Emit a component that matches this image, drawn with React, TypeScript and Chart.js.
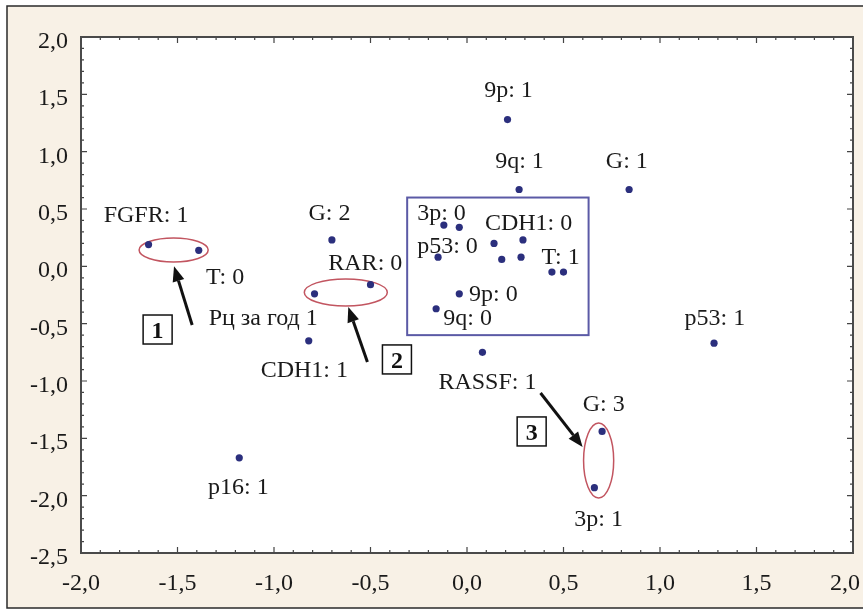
import React, { useEffect, useRef } from "react";
import { Chart, registerables } from "chart.js";

Chart.register(...registerables);

// ---- data ----
const pointX = [0.21, 0.27, 0.84, -1.65, -1.39, -0.7, -0.5, -0.79, -0.82, -0.12, -0.04, 0.14, 0.29, -0.15, 0.18, 0.28, 0.44, 0.5, -0.04, -0.16, 0.08, 1.28, -1.18, 0.7, 0.66];
const pointY = [1.28, 0.67, 0.67, 0.19, 0.14, 0.23, -0.16, -0.24, -0.65, 0.36, 0.34, 0.2, 0.23, 0.08, 0.06, 0.08, -0.05, -0.05, -0.24, -0.37, -0.75, -0.67, -1.67, -1.44, -1.93];

const xTicks = [-2, -1.5, -1, -0.5, 0, 0.5, 1, 1.5, 2];
const yTicks = [-2.5, -2, -1.5, -1, -0.5, 0, 0.5, 1, 1.5, 2];

const labelTexts = ["9p: 1", "9q: 1", "G: 1", "FGFR: 1", "G: 2", "T: 0", "Рц за год 1", "RAR: 0", "CDH1: 1", "3p: 0", "CDH1: 0", "p53: 0", "T: 1", "9p: 0", "9q: 0", "RASSF: 1", "G: 3", "3p: 1", "p16: 1", "p53: 1"];
const labelX = [0.215, 0.272, 0.828, -1.663, -0.713, -1.253, -1.056, -0.527, -0.843, -0.132, 0.319, -0.101, 0.485, 0.137, 0.003, 0.106, 0.708, 0.682, -1.185, 1.284];
const labelY = [1.538, 0.927, 0.927, 0.456, 0.473, -0.085, -0.45, 0.037, -0.904, 0.473, 0.386, 0.186, 0.09, -0.233, -0.45, -1.0, -1.192, -2.203, -1.924, -0.45];

// ellipses: centre x, centre y, radius x, radius y (data units)
const ellipseCX = [-1.52, -0.628, 0.682];
const ellipseCY = [0.142, -0.228, -1.693];
const ellipseRX = [0.179, 0.215, 0.078];
const ellipseRY = [0.105, 0.118, 0.327];

// arrows: from -> to (data units)
const arrowFromX = [-1.424, -0.516, 0.381];
const arrowFromY = [-0.512, -0.834, -1.105];
const arrowToX = [-1.518, -0.615, 0.599];
const arrowToY = [0.0, -0.355, -1.575];

// numbered boxes
const boxTexts = ["1", "2", "3"];
const boxX = [-1.603, -0.363, 0.335];
const boxY = [-0.551, -0.812, -1.44];

// highlighted region rectangle
const regionX = [-0.31, 0.63];
const regionY = [0.6, -0.6];

const FONT = '"Liberation Serif", "Times New Roman", serif';
const fmt = (v: number) => v.toFixed(1).replace(".", ",");

const overlay = {
  id: "overlay",
  beforeDraw(chart: any) {
    const ctx = chart.ctx;
    const W = chart.width;
    const H = chart.height;
    const a = chart.chartArea;
    ctx.save();
    ctx.fillStyle = "#ffffff";
    ctx.fillRect(0, 0, W, H);
    ctx.fillStyle = "#f8f1e6";
    ctx.fillRect(7, 6, W - 7, 602);
    ctx.strokeStyle = "#2a2a2a";
    ctx.lineWidth = 1.5;
    ctx.beginPath();
    ctx.moveTo(W, 6);
    ctx.lineTo(7, 6);
    ctx.lineTo(7, 608);
    ctx.lineTo(W, 608);
    ctx.stroke();
    ctx.fillStyle = "#ffffff";
    ctx.fillRect(a.left, a.top, a.right - a.left, a.bottom - a.top);
    ctx.restore();
  },
  beforeDatasetsDraw(chart: any) {
    const ctx = chart.ctx;
    const xs = chart.scales.x;
    const ys = chart.scales.y;
    ctx.save();
    const rx0 = xs.getPixelForValue(regionX[0]);
    const rx1 = xs.getPixelForValue(regionX[1]);
    const ry0 = ys.getPixelForValue(regionY[0]);
    const ry1 = ys.getPixelForValue(regionY[1]);
    ctx.strokeStyle = "#5b5aa6";
    ctx.lineWidth = 2;
    ctx.strokeRect(rx0, ry0, rx1 - rx0, ry1 - ry0);
    ctx.strokeStyle = "#c25560";
    ctx.lineWidth = 1.5;
    for (let i = 0; i < ellipseCX.length; i++) {
      const cx = xs.getPixelForValue(ellipseCX[i]);
      const cy = ys.getPixelForValue(ellipseCY[i]);
      const rX = Math.abs(xs.getPixelForValue(ellipseCX[i] + ellipseRX[i]) - cx);
      const rY = Math.abs(ys.getPixelForValue(ellipseCY[i] + ellipseRY[i]) - cy);
      ctx.beginPath();
      ctx.ellipse(cx, cy, rX, rY, 0, 0, Math.PI * 2);
      ctx.stroke();
    }
    ctx.restore();
  },
  afterDatasetsDraw(chart: any) {
    const ctx = chart.ctx;
    const xs = chart.scales.x;
    const ys = chart.scales.y;
    ctx.save();
    ctx.strokeStyle = "#111111";
    ctx.fillStyle = "#111111";
    ctx.lineWidth = 3;
    for (let i = 0; i < arrowFromX.length; i++) {
      const x0 = xs.getPixelForValue(arrowFromX[i]);
      const y0 = ys.getPixelForValue(arrowFromY[i]);
      const x1 = xs.getPixelForValue(arrowToX[i]);
      const y1 = ys.getPixelForValue(arrowToY[i]);
      const ang = Math.atan2(y1 - y0, x1 - x0);
      const L = 15;
      const Wd = 6;
      const bx = x1 - L * Math.cos(ang);
      const by = y1 - L * Math.sin(ang);
      ctx.beginPath();
      ctx.moveTo(x0, y0);
      ctx.lineTo(bx, by);
      ctx.stroke();
      ctx.beginPath();
      ctx.moveTo(x1, y1);
      ctx.lineTo(bx + Wd * Math.sin(ang), by - Wd * Math.cos(ang));
      ctx.lineTo(bx - Wd * Math.sin(ang), by + Wd * Math.cos(ang));
      ctx.closePath();
      ctx.fill();
    }
    for (let i = 0; i < boxTexts.length; i++) {
      const cx = xs.getPixelForValue(boxX[i]);
      const cy = ys.getPixelForValue(boxY[i]);
      const s = 29;
      ctx.fillStyle = "#ffffff";
      ctx.fillRect(cx - s / 2, cy - s / 2, s, s);
      ctx.strokeStyle = "#111111";
      ctx.lineWidth = 1.5;
      ctx.strokeRect(cx - s / 2, cy - s / 2, s, s);
      ctx.fillStyle = "#111111";
      ctx.font = `bold 24px ${FONT}`;
      ctx.textAlign = "center";
      ctx.textBaseline = "alphabetic";
      ctx.fillText(boxTexts[i], cx, cy + 8.5);
    }
    ctx.fillStyle = "#1a1a1a";
    ctx.font = `24px ${FONT}`;
    ctx.textAlign = "center";
    ctx.textBaseline = "alphabetic";
    for (let i = 0; i < labelTexts.length; i++) {
      const px = xs.getPixelForValue(labelX[i]);
      const py = ys.getPixelForValue(labelY[i]);
      ctx.fillText(labelTexts[i], px, py + 7.5);
    }
    ctx.restore();
  },
  afterDraw(chart: any) {
    const ctx = chart.ctx;
    const xs = chart.scales.x;
    const ys = chart.scales.y;
    const a = chart.chartArea;
    ctx.save();
    ctx.strokeStyle = "#444444";
    ctx.lineWidth = 1.2;
    for (let k = -20; k <= 20; k++) {
      const v = k / 10;
      const px = xs.getPixelForValue(v);
      const len = k % 5 === 0 ? 6 : 3;
      ctx.beginPath();
      ctx.moveTo(px, a.bottom);
      ctx.lineTo(px, a.bottom - len);
      ctx.moveTo(px, a.top);
      ctx.lineTo(px, a.top + len);
      ctx.stroke();
    }
    for (let k = -25; k <= 20; k++) {
      const v = k / 10;
      const py = ys.getPixelForValue(v);
      const len = k % 5 === 0 ? 6 : 3;
      ctx.beginPath();
      ctx.moveTo(a.left, py);
      ctx.lineTo(a.left + len, py);
      ctx.moveTo(a.right, py);
      ctx.lineTo(a.right - len, py);
      ctx.stroke();
    }
    ctx.strokeStyle = "#4a4a4a";
    ctx.lineWidth = 2;
    ctx.strokeRect(a.left, a.top, a.right - a.left, a.bottom - a.top);
    ctx.fillStyle = "#1a1a1a";
    ctx.font = `24px ${FONT}`;
    ctx.textBaseline = "alphabetic";
    ctx.textAlign = "right";
    for (const v of yTicks) {
      const py = ys.getPixelForValue(v);
      ctx.fillText(fmt(v), 68, py + 11);
    }
    ctx.textAlign = "center";
    for (const v of xTicks) {
      let px = xs.getPixelForValue(v);
      const t = fmt(v);
      const w = ctx.measureText(t).width;
      if (px + w / 2 > 860) px = 860 - w / 2;
      ctx.fillText(t, px, 590);
    }
    ctx.restore();
  },
};

export default function App() {
  const ref = useRef<HTMLCanvasElement | null>(null);
  useEffect(() => {
    if (!ref.current) return;
    const data = pointX.map((x, i) => ({ x, y: pointY[i] }));
    const chart = new Chart(ref.current, {
      type: "scatter",
      data: {
        datasets: [
          {
            data,
            pointRadius: 3.6,
            pointHoverRadius: 3.6,
            backgroundColor: "#2b2f7d",
            borderColor: "#2b2f7d",
            borderWidth: 0,
          },
        ],
      },
      options: {
        animation: false,
        responsive: false,
        devicePixelRatio: 1,
        layout: { padding: { left: 81, top: 37, right: 10, bottom: 58 } },
        plugins: { legend: { display: false }, tooltip: { enabled: false } },
        scales: {
          x: { type: "linear", min: -2, max: 2, display: false },
          y: { type: "linear", min: -2.5, max: 2, display: false },
        },
      },
      plugins: [overlay],
    });
    return () => chart.destroy();
  }, []);
  return (
    <div style={{ position: "absolute", left: 0, top: 0, width: 863, height: 611 }}>
      <canvas ref={ref} width={863} height={611} style={{ width: 863, height: 611, display: "block" }} />
    </div>
  );
}
